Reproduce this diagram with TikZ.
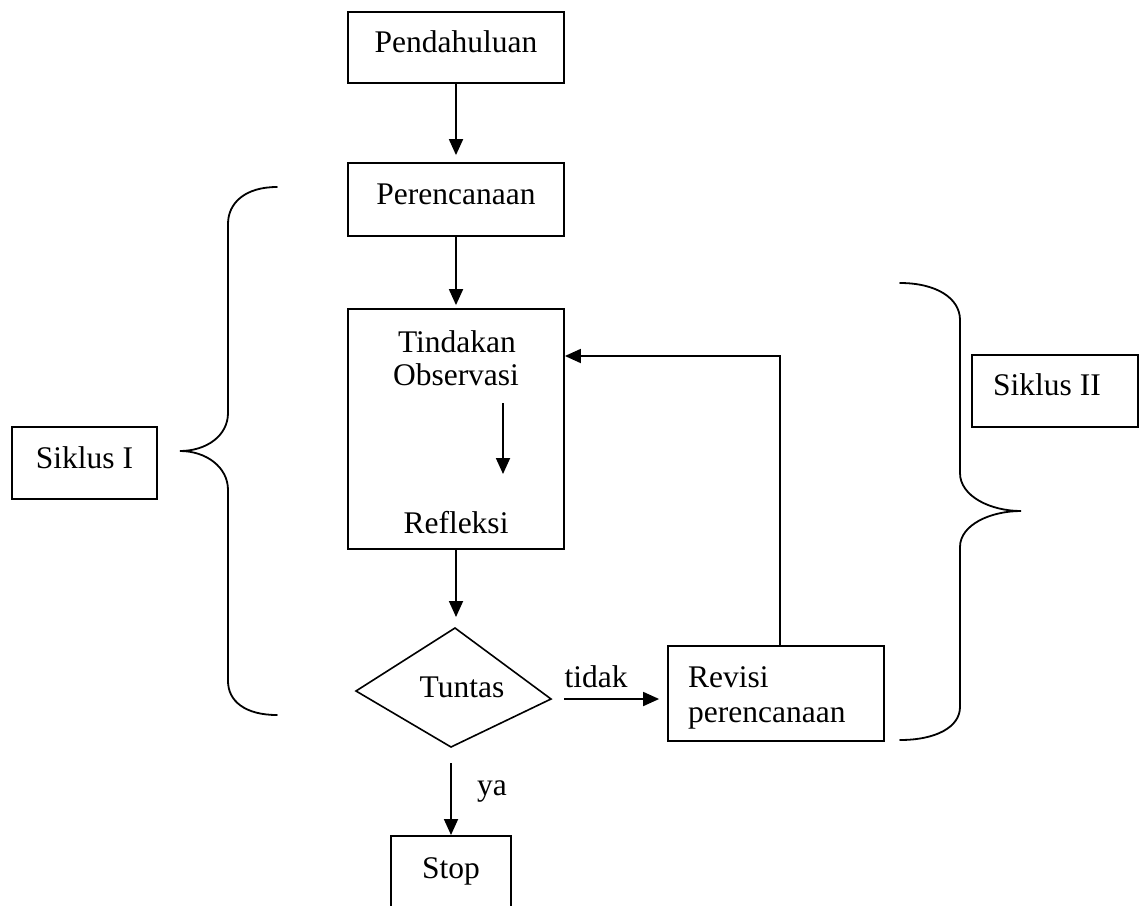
\documentclass[tikz,border=0pt]{standalone}
\usepackage{fontspec}
\setmainfont{Liberation Serif}
\usetikzlibrary{arrows.meta}
\tikzset{
  txt/.style={font=\fontsize{31.5}{35}\selectfont, inner sep=0pt},
  box/.style={draw, line width=1.8pt, rectangle, inner sep=0pt, txt, text height=22pt, text depth=12pt},
  arr/.style={line width=1.8pt, -{Triangle[length=16pt,width=14pt]}},
  plain/.style={line width=1.6pt},
  bracepath/.style={line width=1.8pt, line cap=round},
}
\begin{document}
\begin{tikzpicture}[x=1pt,y=-1pt]
\clip (0,0) rectangle (1140,905);
\fill[white] (0,0) rectangle (1140,905);

% main column
\node[box, minimum width=216pt, minimum height=71pt] (pend) at (456,47.5) {Pendahuluan};
\node[box, minimum width=216pt, minimum height=73pt] (pere) at (456,199.5) {Perencanaan};
\node[box, minimum width=216pt, minimum height=240pt] (big) at (456,429) {};
\node[txt, anchor=base] (tind) at (457,352) {Tindakan};
\node[txt, anchor=base] (obs) at (456,385) {Observasi};
\node[txt, anchor=base] (refl) at (456,533) {Refleksi};
\coordinate (ia) at (503,403);
\coordinate (ib) at (503,474);

% decision
\coordinate (dT) at (455,628);
\coordinate (dL) at (356,691);
\coordinate (dR) at (551,699);
\coordinate (dB) at (451,747);
\draw[plain] (dT) -- (dR) -- (dB) -- (dL) -- cycle;
\node[txt, anchor=base] (tuntas) at (462,697) {Tuntas};

% revision box
\node[box, minimum width=216pt, minimum height=95pt] (revisi) at (776,693.5) {};
\node[txt, anchor=base west] (rev1) at (688,687) {Revisi};
\node[txt, anchor=base west] (rev2) at (688,722) {perencanaan};
\coordinate (fb) at (780,356);

% stop
\node[box, minimum width=120pt, minimum height=100pt, anchor=north] (stop) at (451,835) {};
\node[txt, anchor=base] (stoptxt) at (451,878) {Stop};

% labels
\node[txt, anchor=base] (tidak) at (596,687) {tidak};
\node[txt, anchor=base] (ya) at (492,795) {ya};

% cycle boxes
\node[box, minimum width=145pt, minimum height=72pt] (s1) at (84.5,463) {Siklus I};
\node[box, minimum width=166pt, minimum height=72pt] (s2) at (1055,391) {};
\node[txt, anchor=base west] (s2txt) at (993,395) {Siklus II};

% connectors
\draw[arr, shorten >=7pt] (pend.south) -- (pere.north);
\draw[arr, shorten >=3pt] (pere.south) -- (big.north);
\draw[arr] (ia) -- (ib);
\draw[arr, shorten >=11pt] (big.south) -- (big.south |- dT);
\draw[arr, shorten <=13pt, shorten >=8pt] (dR) -- (dR -| revisi.west);
\draw[arr] (revisi.north -| fb) -- (fb) -- (big.east |- fb);
\draw[arr, shorten <=16pt] (dB) -- (stop.north);

% braces
\draw[bracepath] (277,187) .. controls (245,187) and (228,203) .. (228,224)
  -- (228,413) .. controls (228,436) and (206,451) .. (180,451)
  .. controls (206,451) and (228,467) .. (228,490)
  -- (228,681) .. controls (228,701) and (245,715) .. (277,715);
\draw[bracepath] (900,283) .. controls (936,283) and (960,298) .. (960,320)
  -- (960,473) .. controls (960,496) and (990,511) .. (1021,511)
  .. controls (990,511) and (960,525) .. (960,547)
  -- (960,707) .. controls (960,727) and (936,740) .. (900,740);
\end{tikzpicture}
\end{document}
